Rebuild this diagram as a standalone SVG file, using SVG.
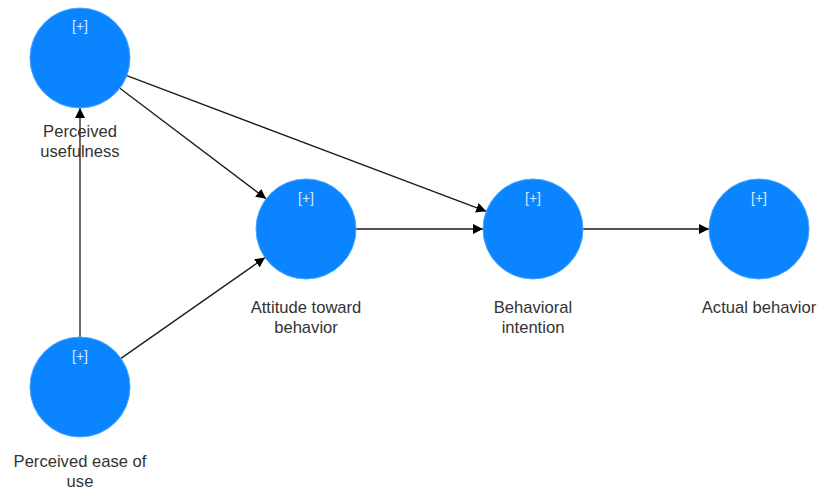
<svg xmlns="http://www.w3.org/2000/svg" width="818" height="490" viewBox="0 0 818 490">
  <style>
    .node circle { fill: #0A84FF; stroke: #4aa6ff; stroke-width: 1; }
    .badge { font-family: "Liberation Sans", Arial, sans-serif; font-size: 14px; fill: #d6eaff; text-anchor: middle; }
    .label { font-family: "Liberation Sans", Arial, sans-serif; font-size: 16.6px; fill: #333333; text-anchor: middle; }
    .edge { stroke: #1a1a1a; stroke-width: 1.3; fill: none; marker-end: url(#arrow); }
  </style>
  <defs>
    <marker id="arrow" viewBox="0 0 10 10" refX="10" refY="5" markerWidth="10" markerHeight="10" markerUnits="userSpaceOnUse" orient="auto">
      <path d="M0,0 L10,5 L0,10 Z" fill="#000000"/>
    </marker>
  </defs>
  <rect width="818" height="490" fill="#ffffff"/>

  <g id="connectors">
    <line class="edge" x1="80" y1="337" x2="80" y2="108"/>
    <line class="edge" x1="119.9" y1="88.2" x2="266.1" y2="198.8"/>
    <line class="edge" x1="126.8" y1="75.7" x2="486.2" y2="211.3"/>
    <line class="edge" x1="121" y1="358.4" x2="265" y2="257.6"/>
    <line class="edge" x1="356" y1="229" x2="483" y2="229"/>
    <line class="edge" x1="583" y1="229" x2="709" y2="229"/>
  </g>

  <g id="perceived-usefulness" class="node">
    <circle cx="80" cy="58" r="50"/>
    <text class="badge" x="80" y="31">[+]</text>
    <text class="label" x="80" y="137">Perceived</text>
    <text class="label" x="80" y="157">usefulness</text>
  </g>

  <g id="perceived-ease-of-use" class="node">
    <circle cx="80" cy="387" r="50"/>
    <text class="badge" x="80" y="361">[+]</text>
    <text class="label" x="80" y="467">Perceived ease of</text>
    <text class="label" x="80" y="487">use</text>
  </g>

  <g id="attitude-toward-behavior" class="node">
    <circle cx="306" cy="229" r="50"/>
    <text class="badge" x="306" y="203">[+]</text>
    <text class="label" x="306" y="313">Attitude toward</text>
    <text class="label" x="306" y="333">behavior</text>
  </g>

  <g id="behavioral-intention" class="node">
    <circle cx="533" cy="229" r="50"/>
    <text class="badge" x="533" y="203">[+]</text>
    <text class="label" x="533" y="313">Behavioral</text>
    <text class="label" x="533" y="333">intention</text>
  </g>

  <g id="actual-behavior" class="node">
    <circle cx="759" cy="229" r="50"/>
    <text class="badge" x="759" y="203">[+]</text>
    <text class="label" x="759" y="313">Actual behavior</text>
  </g>
</svg>
